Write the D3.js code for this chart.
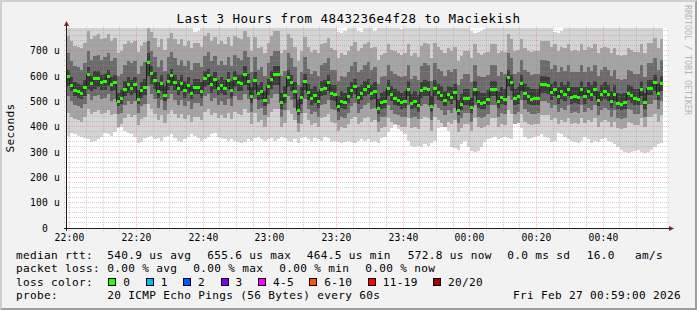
<!DOCTYPE html>
<html>
<head>
<meta charset="utf-8">
<script src="https://cdn.jsdelivr.net/npm/d3@7"></script>
<style>
  body { margin: 0; background: #fff; }
  svg { display: block; }
  text { font-family: "DejaVu Sans Mono", monospace; }
</style>
</head>
<body>
<svg id="chart" width="697" height="310"></svg>
<script>
// one value per minute, 21:59 .. 00:58, in microseconds
const median = [
  600,565,545,542,534,557,608,574,592,592, 576,580,600,568,576,503,514,550,568,553,
  568,511,545,557,656,613,584,542,574,525, 582,604,576,553,574,545,566,534,558,558,
  542,591,604,568,587,554,566,553,584,545, 592,576,574,608,582,521,584,534,541,505,
  559,590,608,608,497,526,597,576,542,466, 518,582,537,514,526,503,550,554,576,534,
  529,482,503,497,521,545,561,518,534,550, 561,534,542,474,497,501,553,529,514,505,
  497,501,550,495,501,486,545,553,550,482, 553,537,526,505,529,518,537,466,490,514,
  514,479,551,501,495,497,511,551,551,501, 518,511,597,576,514,521,574,534,521,511,
  514,514,570,570,566,537,551,521,542,529, 551,518,521,518,551,521,542,529,551,505,
  529,542,529,503,529,495,490,497,534,526, 514,511,551,497,554,554,576,534,573
];
// smoke: sorted ping ranks (of 20) per minute
const smokeP1 = [
  365,375,370,365,360,355,350,340,345,350, 360,375,370,365,380,395,400,385,375,370,
  360,335,340,355,360,365,350,355,345,360, 365,370,355,345,340,350,360,370,365,355,
  345,350,360,370,375,360,355,350,345,350, 345,340,335,340,350,345,355,360,350,345,
  350,355,345,350,360,355,345,340,350,335, 355,360,350,345,355,350,345,360,355,340,
  345,340,335,338,345,340,335,345,350,345, 350,340,345,335,355,360,380,395,405,390,
  385,370,345,325,320,325,320,330,325,335, 345,395,400,405,385,320,316,310,330,345,
  320,305,300,305,320,340,350,355,360,350, 355,360,355,350,410,415,395,360,350,355,
  360,365,370,360,355,340,345,375,370,360, 350,345,340,335,345,360,350,335,345,340,
  350,355,345,340,330,320,310,300,295,300, 305,310,300,295,300,310,320,330,335
];
const smokeP3 = [
  455,440,430,425,420,440,470,450,460,465, 450,455,465,445,450,400,410,435,450,440,
  445,405,430,440,490,470,450,425,445,415, 450,465,450,435,450,430,445,420,440,440,
  425,460,470,445,455,435,445,435,455,430, 460,450,445,470,455,410,455,420,425,400,
  440,460,470,470,400,415,465,450,425,380, 410,455,425,405,415,400,435,440,450,420,
  415,385,400,395,410,430,440,410,420,435, 440,420,425,380,395,400,435,420,410,405,
  400,400,435,395,400,390,430,440,435,385, 440,425,415,400,420,410,425,380,395,410,
  410,385,435,400,395,400,405,435,435,400, 410,405,465,450,410,415,450,420,410,405,
  410,410,445,445,445,425,435,410,425,420, 435,410,415,410,435,415,425,420,435,400,
  420,425,420,400,420,395,390,395,420,415, 405,405,435,400,440,440,450,420,445
];
const smokeP6 = [
  520,500,485,480,475,490,530,505,520,525, 510,515,530,500,510,450,455,485,500,490,
  500,455,480,490,560,530,510,475,505,465, 510,530,505,485,505,480,500,470,495,495,
  480,520,530,500,515,485,500,485,510,480, 520,505,505,530,510,460,510,470,475,445,
  490,515,530,530,440,465,520,505,475,415, 455,510,470,450,460,440,485,490,505,470,
  465,425,440,435,455,480,495,455,470,485, 495,470,475,420,440,440,485,465,450,445,
  440,440,485,435,440,430,480,490,485,425, 490,475,465,445,465,455,475,415,435,455,
  455,420,485,440,435,440,450,485,485,440, 455,450,520,505,450,460,505,470,460,450,
  450,455,500,500,495,475,485,460,475,465, 485,455,460,455,485,460,475,465,485,445,
  465,475,465,440,465,435,430,435,470,465, 450,450,485,440,490,490,505,470,500
];
const smokeP9 = [
  560,540,520,515,510,520,550,540,550,555, 545,545,560,540,545,480,490,520,535,525,
  535,490,515,525,600,570,550,515,540,500, 545,560,545,525,540,515,535,510,530,530,
  515,555,565,535,550,525,535,525,550,515, 555,540,540,565,545,495,545,505,510,480,
  525,550,565,565,470,495,555,540,510,445, 490,545,505,485,495,475,520,525,540,505,
  500,460,475,470,495,515,530,490,505,520, 530,505,510,450,470,475,520,500,485,480,
  470,475,520,470,475,460,515,520,520,460, 520,505,500,480,500,490,505,445,465,485,
  485,455,520,475,470,470,485,520,520,475, 490,485,555,540,485,490,540,505,490,485,
  485,485,535,535,530,505,520,490,510,500, 520,490,495,490,520,490,510,500,520,480,
  500,510,500,475,500,470,465,470,505,495, 485,485,520,470,525,525,540,505,540
];
const smokeP12 = [
  625,595,575,570,565,585,635,600,620,620, 605,610,625,595,605,535,545,580,595,585,
  595,545,575,590,690,640,615,575,605,560, 610,630,605,585,605,580,595,565,590,590,
  575,620,630,600,615,585,595,585,615,580, 620,605,605,640,610,555,615,565,575,540,
  590,620,640,640,535,560,625,605,575,505, 555,610,570,550,560,540,580,585,605,565,
  565,520,540,535,555,575,590,555,565,580, 590,565,575,510,535,540,585,560,550,540,
  535,540,580,530,540,525,575,585,580,520, 585,570,560,540,560,555,570,505,530,550,
  550,515,580,540,535,535,545,580,580,540, 555,550,625,605,550,555,605,570,555,550,
  550,550,600,600,595,570,580,555,575,565, 580,555,555,555,580,555,575,565,580,540,
  565,575,565,540,565,535,530,535,565,560, 550,550,580,535,585,585,605,570,600
];
const smokeP15 = [
  690,660,640,635,625,650,700,665,680,685, 665,675,690,660,670,600,610,645,660,650,
  660,610,640,655,740,700,675,635,665,620, 675,695,670,645,665,640,660,625,650,650,
  635,680,695,660,680,645,660,645,675,640, 685,670,665,700,675,615,675,625,635,600,
  650,680,700,700,600,620,690,670,635,565, 615,675,630,610,620,600,645,650,670,625,
  625,580,600,595,615,640,655,615,625,645, 655,625,635,570,595,600,645,620,610,600,
  595,600,645,590,600,585,640,650,645,580, 650,630,620,600,625,615,630,565,590,610,
  610,575,645,600,595,595,605,645,645,600, 615,610,690,670,610,615,665,625,615,605,
  610,610,665,665,660,630,645,615,635,620, 645,615,615,615,645,615,635,620,645,600,
  625,635,625,600,625,590,585,590,625,620, 610,610,645,595,650,650,670,625,665
];
const smokeP18 = [
  760,740,720,715,710,730,780,745,760,765, 745,750,765,740,750,690,700,725,740,730,
  740,695,720,735,800,775,750,715,745,705, 750,770,745,725,745,720,740,710,730,730,
  715,760,770,740,755,725,740,725,755,720, 760,750,745,780,755,700,755,710,715,690,
  730,760,780,780,690,705,765,750,715,660, 700,755,715,695,705,690,725,730,750,710,
  705,670,690,685,700,720,735,700,710,725, 735,710,715,665,685,690,725,705,700,690,
  685,690,725,680,690,675,720,730,725,670, 730,715,705,690,710,700,715,660,680,700,
  700,670,725,690,685,690,695,725,725,690, 700,695,765,745,700,705,745,710,700,695,
  700,700,740,740,740,715,725,700,715,710, 725,700,705,700,725,705,715,710,725,690,
  710,715,710,690,710,685,680,685,710,705, 695,695,725,690,730,730,750,710,745
];
const smokeP20 = [
  800,800,800,800,800,800,800,800,800,800, 800,800,800,800,800,800,800,800,800,800,
  800,800,800,800,800,800,800,800,800,800, 800,800,800,800,800,800,800,800,775,780,
  800,800,800,800,800,800,800,800,800,800, 800,800,800,800,800,800,800,800,800,800,
  800,800,800,800,800,800,800,800,800,800, 800,800,800,800,800,800,800,800,800,800,
  800,775,770,780,800,800,800,780,775,800, 800,800,780,800,800,800,800,800,800,800,
  785,800,800,800,800,800,800,800,800,800, 800,800,800,800,800,800,800,800,800,800,
  800,780,770,775,780,785,800,800,800,800, 800,800,800,800,800,800,800,800,800,800,
  800,800,800,800,800,800,775,770,780,800, 800,800,800,800,800,800,800,800,800,800,
  800,800,800,800,800,800,800,800,800,800, 800,800,800,800,800,800,800,800,800
];
const smokeBands = [[smokeP1, smokeP20], [smokeP3, smokeP18], [smokeP6, smokeP15], [smokeP9, smokeP12]];
// each band averages the smokeping greys of the ranks it spans
const smokeColors = ["#d4d4d4", "#a4a4a4", "#6b6b6b", "#3c3c3c"];

const yTicks = [0, 100, 200, 300, 400, 500, 600, 700];
const lossLabels = ["0", "1", "2", "3", "4-5", "6-10", "11-19", "20/20"];
const lossColors = ["#26ff00", "#00b8ff", "#0059ff", "#7e00ff", "#ff00ff", "#ff5500", "#ff0000", "#a10000"];
const rttLegend = ["540.9 us avg", "655.6 us max", "464.5 us min", "572.8 us now", "0.0 ms sd", "16.0", "am/s"];
const lossLegend = ["0.00 % avg", "0.00 % max", "0.00 % min", "0.00 % now"];
const probeText = "20 ICMP Echo Pings (56 Bytes) every 60s";
const stamp = "Fri Feb 27 00:59:00 2026";
const title = "Last 3 Hours from 4843236e4f28 to Maciekish";

const svg = d3.select("svg#chart");
const width = +svg.attr("width");
const height = +svg.attr("height");

const t0 = new Date(2026, 1, 26, 21, 59);
const t1 = new Date(2026, 1, 27, 0, 59);
const x = d3.scaleTime().domain([t0, t1]).range([66.5, 666.5]);
const y = d3.scaleLinear().domain([0, 790]).range([228, 28]);
const px = v => Math.floor(v) + 0.5;
const stepT = i => d3.timeMinute.offset(t0, i);

// frame
svg.append("rect").attr("width", width).attr("height", height).attr("fill", "#f2f2f2");
svg.append("path").attr("d", `M0,${height}L2,${height-2}L2,2L${width-2},2L${width},0L0,0Z`).attr("fill", "#cfcfcf");
svg.append("path").attr("d", `M2,${height-2}L${width-2},${height-2}L${width-2},2L${width},0L${width},${height}L0,${height}Z`).attr("fill", "#9e9e9e");
svg.append("rect").attr("x", 67).attr("y", 28).attr("width", 600).attr("height", 200).attr("fill", "#fff");

svg.append("defs").append("clipPath").attr("id", "plotclip")
  .append("rect").attr("x", 67).attr("y", 28).attr("width", 600).attr("height", 200);

// smoke, outer ranks first, inner (darker) on top
const smoke = svg.append("g").attr("clip-path", "url(#plotclip)").attr("shape-rendering", "crispEdges");
smokeBands.forEach(([lo, hi], k) => {
  const pts = lo.map((v, i) => ({t: stepT(i), lo: v, hi: hi[i]}));
  pts.push({t: stepT(lo.length), lo: lo[lo.length - 1], hi: hi[hi.length - 1]});
  const area = d3.area()
    .x(d => Math.round(x(d.t)))
    .y0(d => Math.round(y(d.lo)))
    .y1(d => Math.round(y(d.hi)))
    .curve(d3.curveStepAfter);
  smoke.append("path").attr("d", area(pts)).attr("fill", smokeColors[k]);
});

// grid
const grid = svg.append("g").attr("fill", "none").attr("stroke-dasharray", "1,1");
const minorCol = "rgba(150,150,150,0.42)";
const majorCol = "rgba(235,90,90,0.38)";
const minorY = d3.range(20, 790, 20).filter(v => v % 100 !== 0);
grid.selectAll(".hmin").data(minorY).enter().append("line")
  .attr("x1", 64).attr("x2", 669)
  .attr("y1", d => px(y(d))).attr("y2", d => px(y(d)))
  .attr("stroke", minorCol);
const minorX = x.ticks(d3.timeMinute.every(5)).filter(d => d.getMinutes() % 20 !== 0);
grid.selectAll(".vmin").data(minorX).enter().append("line")
  .attr("x1", d => px(x(d))).attr("x2", d => px(x(d)))
  .attr("y1", 26).attr("y2", 231)
  .attr("stroke", minorCol);
grid.selectAll(".hmaj").data(yTicks.slice(1)).enter().append("line")
  .attr("x1", 64).attr("x2", 669)
  .attr("y1", d => px(y(d))).attr("y2", d => px(y(d)))
  .attr("stroke", majorCol);
const majorX = x.ticks(d3.timeMinute.every(20));
grid.selectAll(".vmaj").data(majorX).enter().append("line")
  .attr("x1", d => px(x(d))).attr("x2", d => px(x(d)))
  .attr("y1", 26).attr("y2", 231)
  .attr("stroke", majorCol);

// median: dark step line, then green loss-coloured bars
const medLine = d3.line()
  .x(d => x(d.t)).y(d => Math.round(y(d.v)) + 0.5)
  .curve(d3.curveStepAfter);
const medPts = median.map((v, i) => ({t: stepT(i), v}));
medPts.push({t: stepT(median.length), v: median[median.length - 1]});
svg.append("path").attr("d", medLine(medPts))
  .attr("fill", "none").attr("stroke", "#202020").attr("stroke-width", 1);
svg.append("g").selectAll("rect").data(median).enter().append("rect")
  .attr("x", (d, i) => Math.round(x(stepT(i))))
  .attr("width", (d, i) => Math.round(x(stepT(i + 1))) - Math.round(x(stepT(i))))
  .attr("y", d => Math.round(y(d)) - 1)
  .attr("height", 3)
  .attr("fill", lossColors[0]);

// axes
svg.append("line").attr("x1", 66.5).attr("x2", 66.5).attr("y1", 231).attr("y2", 26).attr("stroke", "#1f1f1f");
svg.append("line").attr("x1", 64).attr("x2", 669).attr("y1", 228.5).attr("y2", 228.5).attr("stroke", "#1f1f1f");
svg.append("path").attr("d", "M64,26L69,26L66.5,21Z").attr("fill", "#801f1f");
svg.append("path").attr("d", "M669,226L669,231L674,228.5Z").attr("fill", "#801f1f");

const xl = svg.append("g").attr("font-size", "9.7px").attr("letter-spacing", "0.15px").attr("text-anchor", "middle");
xl.selectAll("text").data(majorX).enter().append("text")
  .attr("x", d => px(x(d)))
  .attr("y", 241)
  .text(d3.timeFormat("%H:%M"));
const yl = svg.append("g").attr("font-size", "9.7px").attr("letter-spacing", "0.15px").attr("text-anchor", "end");
yl.selectAll("text").data(yTicks).enter().append("text")
  .attr("x", d => d === 0 ? 48 : 60)
  .attr("y", d => px(y(d)) + 3.5)
  .text(d => d === 0 ? "0" : d + " u");

// labels
svg.append("text").attr("x", 348.5).attr("y", 23).attr("text-anchor", "middle")
  .attr("font-size", "12.5px").attr("letter-spacing", "0.47px").text(title);
svg.append("text").attr("transform", "translate(14,128) rotate(-90)").attr("text-anchor", "middle")
  .attr("font-size", "11.1px").attr("letter-spacing", "0.32px").text("Seconds");
svg.append("text").attr("transform", "translate(685,5) rotate(90)")
  .attr("font-size", "8.3px").attr("fill", "#b4b4b4").text("RRDTOOL / TOBI OETIKER");

// legend
const lg = svg.append("g").attr("font-size", "11.1px").attr("letter-spacing", "0.32px");
const rows = [258.5, 272, 285.5, 299];
lg.append("text").attr("x", 16).attr("y", rows[0]).text("median rtt:");
const rttX = [107.3, 207.3, 306.7, 407.7, 507.3, 586.7, 635];
rttLegend.forEach((s, i) => lg.append("text").attr("x", rttX[i]).attr("y", rows[0]).text(s));
lg.append("text").attr("x", 16).attr("y", rows[1]).text("packet loss:");
lossLegend.forEach((s, i) => lg.append("text").attr("x", 107.3 + 86 * i).attr("y", rows[1]).text(s));
lg.append("text").attr("x", 16).attr("y", rows[2]).text("loss color:");
let lx = 108.3;
lossLabels.forEach((s, i) => {
  lg.append("rect").attr("x", Math.round(lx) + 0.5).attr("y", 278.5).attr("width", 7).attr("height", 7)
    .attr("fill", lossColors[i]).attr("stroke", "#000");
  lg.append("text").attr("x", lx + 15).attr("y", rows[2]).text(s);
  lx += 15 + s.length * 7 + 15.4;
});
lg.append("text").attr("x", 16).attr("y", rows[3]).text("probe:");
lg.append("text").attr("x", 107.3).attr("y", rows[3]).text(probeText);
lg.append("text").attr("x", 681).attr("y", rows[3]).attr("text-anchor", "end").text(stamp);
</script>
</body>
</html>
